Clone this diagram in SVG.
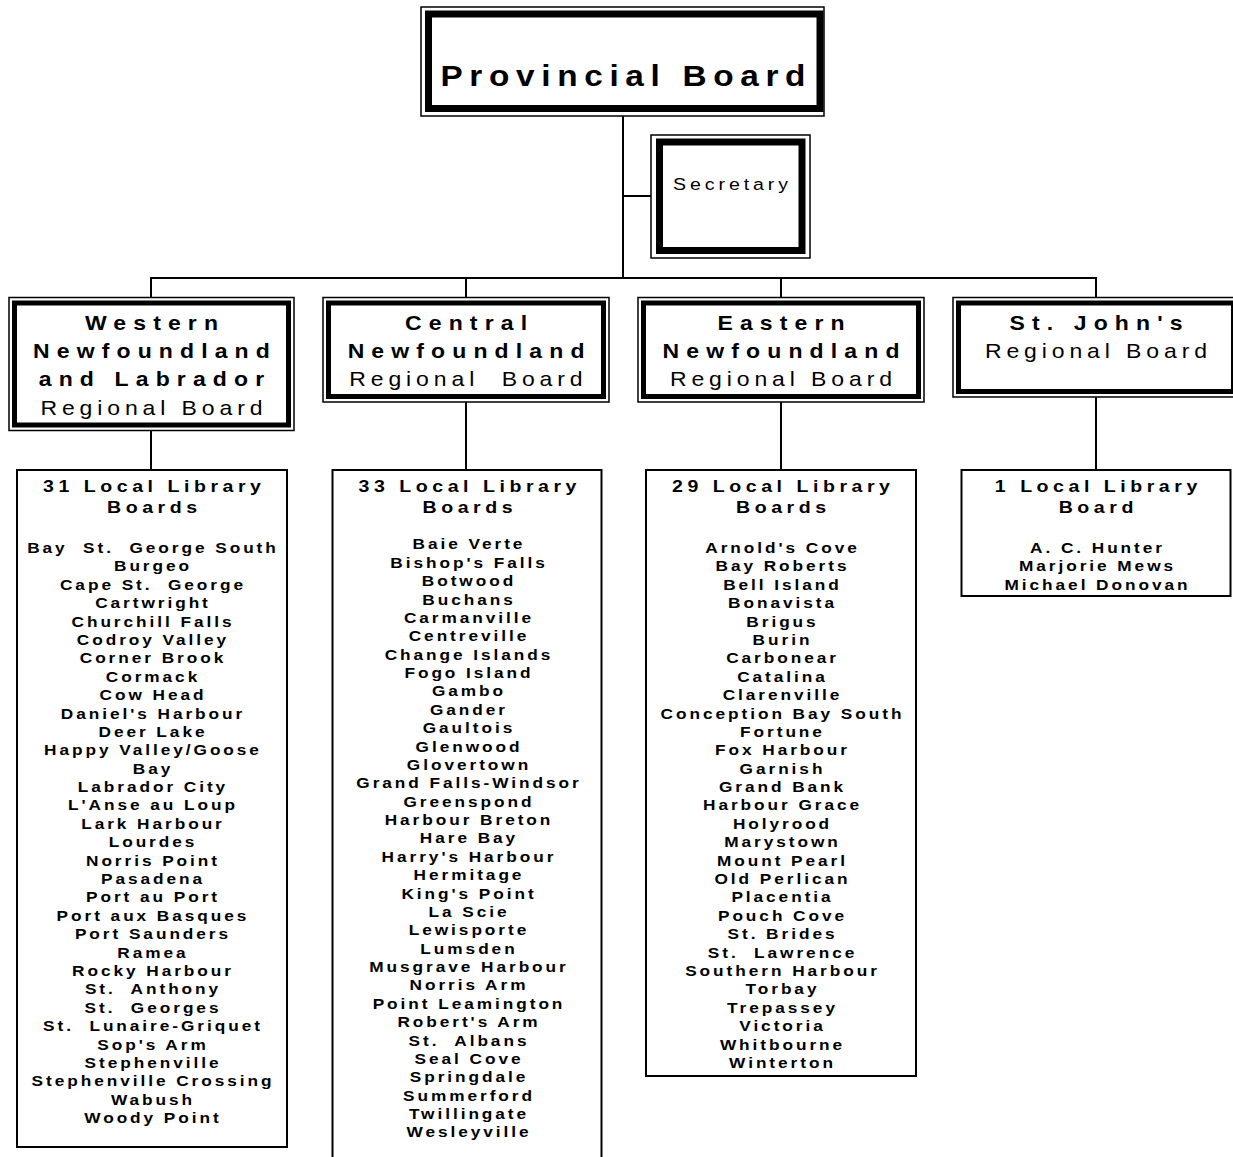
<svg xmlns="http://www.w3.org/2000/svg" width="1233" height="1157" viewBox="0 0 1233 1157">
<style>
.bg{fill:#fff}
.thin{fill:#fff;stroke:#000;stroke-width:1.5}
.thick7{fill:none;stroke:#000;stroke-width:7}
.thick5{fill:none;stroke:#000;stroke-width:5}
.box{fill:#fff;stroke:#000;stroke-width:2}
.conn line{stroke:#000;stroke-width:2}
text{font-family:"Liberation Sans",Arial,Helvetica,sans-serif;fill:#000;text-anchor:middle;white-space:pre;transform-box:fill-box;transform-origin:center;transform:scaleX(1.15)}
.prov{font-size:29px;font-weight:bold;letter-spacing:5.8px}
.sec{font-size:17px;letter-spacing:3.4px}
.rb{font-size:20px;font-weight:bold;letter-spacing:6.2px}
.rr{font-size:20px;letter-spacing:4.25px}
.hd{font-size:17px;font-weight:bold;letter-spacing:3.95px}
.it{font-size:15px;font-weight:bold;letter-spacing:2.56px}
</style>
<rect class="bg" x="0" y="0" width="1233" height="1157"/>

<g id="connectors" class="conn">
<line x1="623" y1="116" x2="623" y2="279"/>
<line x1="623" y1="196" x2="651" y2="196"/>
<line x1="150" y1="278" x2="1097" y2="278"/>
<line x1="151" y1="278" x2="151" y2="298"/>
<line x1="466" y1="278" x2="466" y2="298"/>
<line x1="781" y1="278" x2="781" y2="298"/>
<line x1="1096" y1="278" x2="1096" y2="298"/>
<line x1="151" y1="430" x2="151" y2="470"/>
<line x1="466" y1="402" x2="466" y2="470"/>
<line x1="781" y1="402" x2="781" y2="470"/>
<line x1="1096" y1="397" x2="1096" y2="470"/>
</g>

<g id="provincial-board">
<rect class="thin" x="421" y="7" width="403" height="109"/>
<rect class="thick7" x="428.5" y="14" width="391.5" height="94.5"/>
<text class="prov" x="626.3" y="86">Provincial Board</text>
</g>

<g id="secretary">
<rect class="thin" x="651" y="135" width="159" height="123"/>
<rect class="thick7" x="659.5" y="142" width="142.5" height="108.5"/>
<text class="sec" x="732.5" y="190">Secretary</text>
</g>

<g id="western-regional">
<rect class="thin" x="9" y="297.5" width="285" height="133"/>
<rect class="thick5" x="14.5" y="303" width="274" height="122"/>
<text class="rb" x="155" y="330">Western</text>
<text class="rb" x="155" y="358">Newfoundland</text>
<text class="rb" x="155" y="386">and Labrador</text>
<text class="rr" x="153.9" y="415">Regional Board</text>
</g>

<g id="central-regional">
<rect class="thin" x="323" y="297.5" width="286" height="104.5"/>
<rect class="thick5" x="328.5" y="303" width="275" height="93.5"/>
<text class="rb" x="469.6" y="330">Central</text>
<text class="rb" x="469.6" y="358">Newfoundland</text>
<text class="rr" x="468.4" y="386">Regional  Board</text>
</g>

<g id="eastern-regional">
<rect class="thin" x="638" y="297.5" width="286" height="104.5"/>
<rect class="thick5" x="643.5" y="303" width="275" height="93.5"/>
<text class="rb" x="784.6" y="330">Eastern</text>
<text class="rb" x="784.6" y="358">Newfoundland</text>
<text class="rr" x="783.4" y="386">Regional Board</text>
</g>

<g id="stjohns-regional">
<rect class="thin" x="953" y="297.5" width="286" height="99.5"/>
<rect class="thick5" x="958.5" y="303" width="275" height="88.5"/>
<text class="rb" x="1099.6" y="330">St. John's</text>
<text class="rr" x="1098.4" y="358">Regional Board</text>
</g>

<g id="western-local">
<rect class="box" x="17" y="470" width="270" height="677"/>
<text class="hd" x="154.3" y="492.5">31 Local Library</text>
<text class="hd" x="154.3" y="513.5">Boards</text>
<text class="it" y="553"><tspan x="153">Bay  St.  George South</tspan><tspan x="153" dy="18.39">Burgeo</tspan><tspan x="153" dy="18.39">Cape St.  George</tspan><tspan x="153" dy="18.39">Cartwright</tspan><tspan x="153" dy="18.39">Churchill Falls</tspan><tspan x="153" dy="18.39">Codroy Valley</tspan><tspan x="153" dy="18.39">Corner Brook</tspan><tspan x="153" dy="18.39">Cormack</tspan><tspan x="153" dy="18.39">Cow Head</tspan><tspan x="153" dy="18.39">Daniel's Harbour</tspan><tspan x="153" dy="18.39">Deer Lake</tspan><tspan x="153" dy="18.39">Happy Valley/Goose</tspan><tspan x="153" dy="18.39">Bay</tspan><tspan x="153" dy="18.39">Labrador City</tspan><tspan x="153" dy="18.39">L'Anse au Loup</tspan><tspan x="153" dy="18.39">Lark Harbour</tspan><tspan x="153" dy="18.39">Lourdes</tspan><tspan x="153" dy="18.39">Norris Point</tspan><tspan x="153" dy="18.39">Pasadena</tspan><tspan x="153" dy="18.39">Port au Port</tspan><tspan x="153" dy="18.39">Port aux Basques</tspan><tspan x="153" dy="18.39">Port Saunders</tspan><tspan x="153" dy="18.39">Ramea</tspan><tspan x="153" dy="18.39">Rocky Harbour</tspan><tspan x="153" dy="18.39">St.  Anthony</tspan><tspan x="153" dy="18.39">St.  Georges</tspan><tspan x="153" dy="18.39">St.  Lunaire-Griquet</tspan><tspan x="153" dy="18.39">Sop's Arm</tspan><tspan x="153" dy="18.39">Stephenville</tspan><tspan x="153" dy="18.39">Stephenville Crossing</tspan><tspan x="153" dy="18.39">Wabush</tspan><tspan x="153" dy="18.39">Woody Point</tspan></text>
</g>

<g id="central-local">
<rect class="box" x="332.5" y="470" width="269" height="700"/>
<text class="hd" x="469.8" y="492.5">33 Local Library</text>
<text class="hd" x="469.8" y="513.5">Boards</text>
<text class="it" y="549.5"><tspan x="469">Baie Verte</tspan><tspan x="469" dy="18.375">Bishop's Falls</tspan><tspan x="469" dy="18.375">Botwood</tspan><tspan x="469" dy="18.375">Buchans</tspan><tspan x="469" dy="18.375">Carmanville</tspan><tspan x="469" dy="18.375">Centreville</tspan><tspan x="469" dy="18.375">Change Islands</tspan><tspan x="469" dy="18.375">Fogo Island</tspan><tspan x="469" dy="18.375">Gambo</tspan><tspan x="469" dy="18.375">Gander</tspan><tspan x="469" dy="18.375">Gaultois</tspan><tspan x="469" dy="18.375">Glenwood</tspan><tspan x="469" dy="18.375">Glovertown</tspan><tspan x="469" dy="18.375">Grand Falls-Windsor</tspan><tspan x="469" dy="18.375">Greenspond</tspan><tspan x="469" dy="18.375">Harbour Breton</tspan><tspan x="469" dy="18.375">Hare Bay</tspan><tspan x="469" dy="18.375">Harry's Harbour</tspan><tspan x="469" dy="18.375">Hermitage</tspan><tspan x="469" dy="18.375">King's Point</tspan><tspan x="469" dy="18.375">La Scie</tspan><tspan x="469" dy="18.375">Lewisporte</tspan><tspan x="469" dy="18.375">Lumsden</tspan><tspan x="469" dy="18.375">Musgrave Harbour</tspan><tspan x="469" dy="18.375">Norris Arm</tspan><tspan x="469" dy="18.375">Point Leamington</tspan><tspan x="469" dy="18.375">Robert's Arm</tspan><tspan x="469" dy="18.375">St.  Albans</tspan><tspan x="469" dy="18.375">Seal Cove</tspan><tspan x="469" dy="18.375">Springdale</tspan><tspan x="469" dy="18.375">Summerford</tspan><tspan x="469" dy="18.375">Twillingate</tspan><tspan x="469" dy="18.375">Wesleyville</tspan></text>
</g>

<g id="eastern-local">
<rect class="box" x="646" y="470" width="270" height="606"/>
<text class="hd" x="783.3" y="492.5">29 Local Library</text>
<text class="hd" x="783.3" y="513.5">Boards</text>
<text class="it" y="553"><tspan x="782.5">Arnold's Cove</tspan><tspan x="782.5" dy="18.39">Bay Roberts</tspan><tspan x="782.5" dy="18.39">Bell Island</tspan><tspan x="782.5" dy="18.39">Bonavista</tspan><tspan x="782.5" dy="18.39">Brigus</tspan><tspan x="782.5" dy="18.39">Burin</tspan><tspan x="782.5" dy="18.39">Carbonear</tspan><tspan x="782.5" dy="18.39">Catalina</tspan><tspan x="782.5" dy="18.39">Clarenville</tspan><tspan x="782.5" dy="18.39">Conception Bay South</tspan><tspan x="782.5" dy="18.39">Fortune</tspan><tspan x="782.5" dy="18.39">Fox Harbour</tspan><tspan x="782.5" dy="18.39">Garnish</tspan><tspan x="782.5" dy="18.39">Grand Bank</tspan><tspan x="782.5" dy="18.39">Harbour Grace</tspan><tspan x="782.5" dy="18.39">Holyrood</tspan><tspan x="782.5" dy="18.39">Marystown</tspan><tspan x="782.5" dy="18.39">Mount Pearl</tspan><tspan x="782.5" dy="18.39">Old Perlican</tspan><tspan x="782.5" dy="18.39">Placentia</tspan><tspan x="782.5" dy="18.39">Pouch Cove</tspan><tspan x="782.5" dy="18.39">St. Brides</tspan><tspan x="782.5" dy="18.39">St.  Lawrence</tspan><tspan x="782.5" dy="18.39">Southern Harbour</tspan><tspan x="782.5" dy="18.39">Torbay</tspan><tspan x="782.5" dy="18.39">Trepassey</tspan><tspan x="782.5" dy="18.39">Victoria</tspan><tspan x="782.5" dy="18.39">Whitbourne</tspan><tspan x="782.5" dy="18.39">Winterton</tspan></text>
</g>

<g id="stjohns-local">
<rect class="box" x="961.5" y="470" width="269" height="126"/>
<text class="hd" x="1098.3" y="492.5">1 Local Library</text>
<text class="hd" x="1098.3" y="513.5">Board</text>
<text class="it" y="553"><tspan x="1097.5">A. C. Hunter</tspan><tspan x="1097.5" dy="18.39">Marjorie Mews</tspan><tspan x="1097.5" dy="18.39">Michael Donovan</tspan></text>
</g>
</svg>
